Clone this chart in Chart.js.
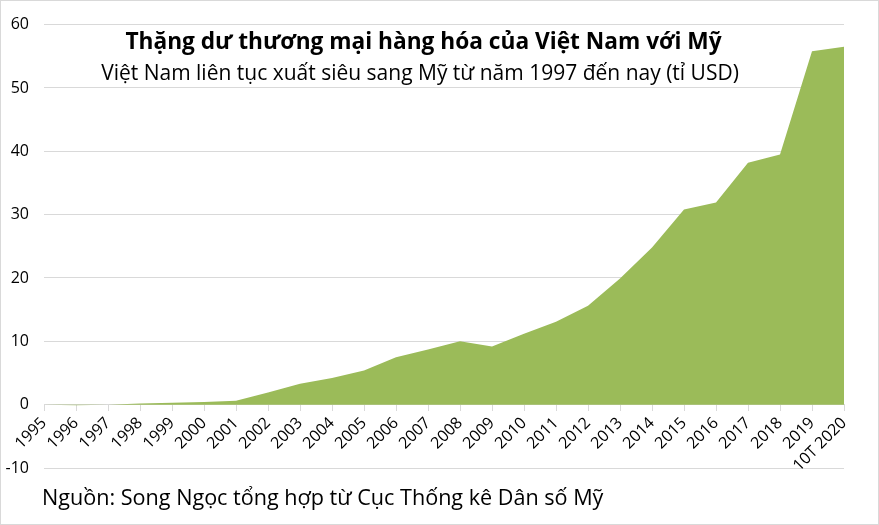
<!DOCTYPE html>
<html lang="vi">
<head>
<meta charset="utf-8">
<title>Thặng dư thương mại hàng hóa của Việt Nam với Mỹ</title>
<script src="https://cdn.jsdelivr.net/npm/chart.js@4.4.1/dist/chart.umd.min.js"></script>
<style>
  html, body { margin: 0; padding: 0; background: #fff; }
  #wrap { position: relative; width: 879px; height: 525px; overflow: hidden; font-family: "Open Sans", "Noto Sans", sans-serif; }
  #wrap canvas { position: absolute; left: 0; top: 0; }
  #frame { position: absolute; left: 0; top: 0; width: 877px; height: 523px; border: 1px solid #d9d9d9; pointer-events: none; }
  .txt { position: absolute; white-space: nowrap; color: #000; }
  #title { left: 0; width: 847px; top: 25px; text-align: center; font-size: 22.7px; font-weight: 700; line-height: 32px; }
  #subtitle { left: 0; width: 840px; top: 56px; text-align: center; font-size: 21px; line-height: 32px; }
  #source { left: 42px; top: 481px; font-size: 21.6px; line-height: 32px; }
</style>
</head>
<body>
<div id="wrap">
  <canvas id="grafico" width="879" height="525"></canvas>
  <div class="txt" id="title">Thặng dư thương mại hàng hóa của Việt Nam với Mỹ</div>
  <div class="txt" id="subtitle">Việt Nam liên tục xuất siêu sang Mỹ từ năm 1997 đến nay (tỉ USD)</div>
  <div class="txt" id="source">Nguồn: Song Ngọc tổng hợp từ Cục Thống kê Dân số Mỹ</div>
  <div id="frame"></div>
</div>
<script>
// Dữ liệu (tỉ USD)
const nam = ['1995','1996','1997','1998','1999','2000','2001','2002','2003','2004','2005','2006','2007',
  '2008','2009','2010','2011','2012','2013','2014','2015','2016','2017','2018','2019','10T 2020'];
const thangDu = [0.0, -0.1, 0.0, 0.2, 0.3, 0.4, 0.6, 1.9, 3.3, 4.2, 5.4, 7.5, 8.7,
  10.0, 9.2, 11.2, 13.1, 15.6, 19.9, 24.8, 30.8, 31.9, 38.2, 39.5, 55.8, 56.5];
const yMin = -10, yMax = 60, yStep = 10;

const fontFam = '"Open Sans", "Noto Sans", sans-serif';
const luoi = '#d9d9d9';

const ctx = document.getElementById('grafico').getContext('2d');
new Chart(ctx, {
  type: 'line',
  data: {
    labels: nam,
    datasets: [{
      data: thangDu,
      backgroundColor: '#9bbb59',
      borderWidth: 0,
      pointRadius: 0,
      tension: 0,
      fill: 'origin'
    }]
  },
  options: {
    responsive: false,
    animation: false,
    devicePixelRatio: 1,
    layout: { padding: { left: 0, top: 24, right: 35, bottom: 57 } },
    plugins: { legend: { display: false }, tooltip: { enabled: false } },
    scales: {
      x: {
        position: { y: 0 },
        offset: false,
        afterFit: (s) => { s.height = 0; },
        grid: { drawOnChartArea: false, drawTicks: true, tickLength: 6, color: luoi },
        border: { display: true, color: luoi },
        ticks: {
          autoSkip: false, minRotation: 45, maxRotation: 45, padding: 3,
          color: '#000', font: { family: fontFam, size: 16 }
        }
      },
      y: {
        min: yMin, max: yMax,
        afterFit: (s) => { s.width = 44; },
        grid: { color: luoi, drawTicks: false },
        border: { display: false },
        ticks: { stepSize: yStep, padding: 15, color: '#000', font: { family: fontFam, size: 16 } }
      }
    }
  }
});
</script>
</body>
</html>
